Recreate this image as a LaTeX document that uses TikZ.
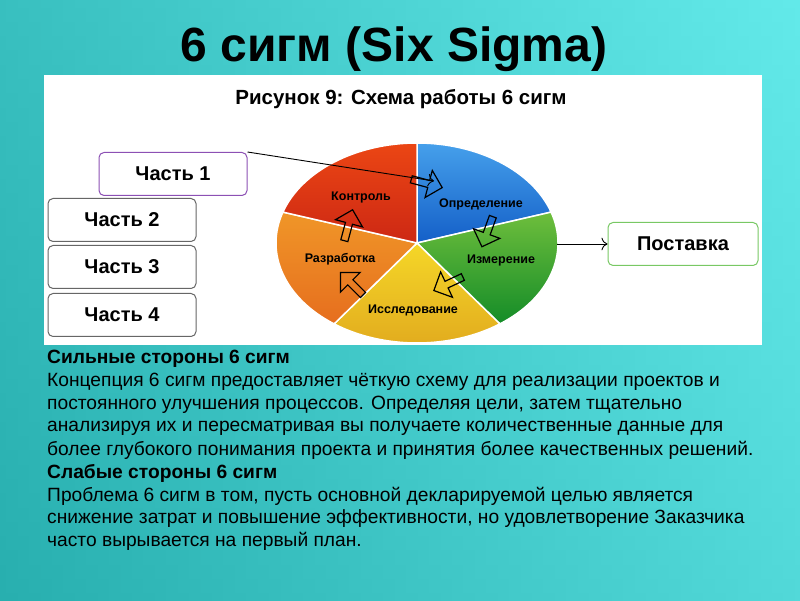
\documentclass[tikz,border=0pt]{standalone}
\usepackage{fontspec}
\setmainfont{Liberation Sans}
\usetikzlibrary{shapes.arrows,arrows.meta}
\definecolor{bgA}{RGB}{40,175,175}
\definecolor{bgB}{RGB}{110,245,245}
\tikzset{
 part/.style={draw=black!60,line width=1pt,rounded corners=5pt,fill=white,minimum width=148pt,minimum height=43pt,font=\bfseries\fontsize{20}{20}\selectfont},
 lbl/.style={font=\bfseries\fontsize{12.5}{12.5}\selectfont},
 flow/.style={single arrow,draw=black,line width=1.2pt,fill=none,minimum height=32pt,minimum width=28pt,single arrow head extend=6pt,inner sep=1.5pt},
 txt/.style={anchor=west,inner sep=0,font=\fontsize{19.2}{19.2}\selectfont},
 sec/.style={draw=white,line width=1.5pt}
}
\newcommand\mysector[4]{\shade[sec,#4] (417,357) -- ++(#1:141pt and 100pt) arc[start angle=#1,end angle=#2,x radius=141pt,y radius=100pt] -- cycle;}
\begin{document}
\begin{tikzpicture}[x=1pt,y=1pt]
\useasboundingbox (0,0) rectangle (800,600);
\shade[left color=bgA,right color=bgB] (0,0) rectangle (800,600);
\shade[top color=bgB!60!bgA,bottom color=bgA,opacity=0.4] (0,0) rectangle (800,600);
\node (title) at (394,551) {\bfseries\fontsize{48}{48}\selectfont 6 сигм (Six Sigma)};
\fill[white] (44,255) rectangle (762,525);
\node (cap) at (401,501) {\bfseries\fontsize{20.5}{20.5}\selectfont Рисунок 9: Схема работы 6 сигм};
\mysector{90}{18}{}{top color={rgb,255:red,70;green,160;blue,235},bottom color={rgb,255:red,20;green,95;blue,200}}
\mysector{18}{-54}{}{top color={rgb,255:red,110;green,190;blue,60},bottom color={rgb,255:red,20;green,140;blue,40}}
\mysector{-54}{-126}{}{top color={rgb,255:red,245;green,215;blue,40},bottom color={rgb,255:red,225;green,170;blue,30}}
\mysector{-126}{-198}{}{top color={rgb,255:red,240;green,150;blue,40},bottom color={rgb,255:red,230;green,110;blue,30}}
\mysector{162}{90}{}{top color={rgb,255:red,235;green,70;blue,20},bottom color={rgb,255:red,205;green,40;blue,20}}
\node[lbl] (l1) at (361,402) {Контроль};
\node[lbl] (l2) at (481,396) {Определение};
\node[lbl] (l3) at (340,341) {Разработка};
\node[lbl] (l4) at (501,340) {Измерение};
\node[lbl] (l5) at (413,290) {Исследование};
\node[flow,rotate=-15] (f1) at (425,417) {};
\node[flow,rotate=-110] (f2) at (488,370) {};
\node[flow,rotate=205] (f3) at (450,317) {};
\node[flow,rotate=135] (f4) at (353,315) {};
\node[flow,rotate=75] (f5) at (348,373) {};
\node[part,draw={rgb,255:red,140;green,80;blue,180}] (p1) at (173,426) {Часть 1};
\node[part] (p2) at (122,380) {Часть 2};
\node[part] (p3) at (122,333) {Часть 3};
\node[part] (p4) at (122,285) {Часть 4};
\node[part,draw={rgb,255:red,120;green,200;blue,100},minimum width=150pt] (p5) at (683,356) {Поставка};
\coordinate (t1) at (434,419);
\draw[-{To[length=6pt]},line width=0.9pt] (p1.north east) -- (t1);
\draw[-{To[length=6pt]},line width=0.9pt] (557,356) -- (p5.west);
\node[txt] (s1) at (47,241) {\bfseries Сильные стороны 6 сигм};
\node[txt] (s2) at (47,218) {Концепция 6 сигм предоставляет чёткую схему для реализации проектов и};
\node[txt] (s3) at (47,195) {постоянного улучшения процессов. Определяя цели, затем тщательно};
\node[txt] (s4) at (47,172) {анализируя их и пересматривая вы получаете количественные данные для};
\node[txt] (s5) at (47,150) {более глубокого понимания проекта и принятия более качественных решений.};
\node[txt] (s6) at (47,127) {\bfseries Слабые стороны 6 сигм};
\node[txt] (s7) at (47,104) {Проблема 6 сигм в том, пусть основной декларируемой целью является};
\node[txt] (s8) at (47,81) {снижение затрат и повышение эффективности, но удовлетворение Заказчика};
\node[txt] (s9) at (47,59) {часто вырывается на первый план.};
\end{tikzpicture}
\end{document}
